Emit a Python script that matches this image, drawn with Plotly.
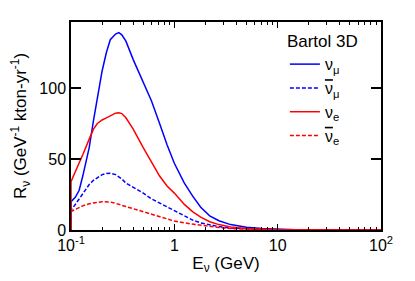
import plotly.graph_objects as go

# Neutrino energy (GeV)
energy = [0.1, 0.1, 0.11, 0.12, 0.13, 0.15, 0.165, 0.18, 0.2, 0.22, 0.24, 0.27, 0.29, 0.31,
          0.34, 0.4, 0.5, 0.6, 0.72, 0.85, 1.0, 1.25, 1.5, 1.8, 2.2, 2.7, 3.5, 5, 7, 10,
          15, 25, 40, 100]

# Event rates (GeV^-1 kton-yr^-1)
numu =    [0, 20, 23, 28, 38, 58, 77, 92, 112, 125, 134, 138, 139, 137.5,
           133, 120, 104, 91, 75, 60, 47, 33, 24, 16, 10, 6.5, 3.8, 1.9, 1.0, 0.5,
           0.2, 0.08, 0.03, 0]
numubar = [0, 14, 18, 22, 26, 32, 35, 37, 39, 39.8, 40, 39, 37.5, 36,
           33, 30, 26, 22, 19, 16, 13.5, 10, 7, 5, 3.5, 2.4, 1.4, 0.7, 0.35, 0.15,
           0.06, 0.02, 0.01, 0]
nue =     [0, 34, 41, 47, 53, 64, 71, 75, 77.5, 79, 80.5, 82.3, 82.6, 82,
           79, 71, 58, 48, 38, 31, 26, 18, 13, 9, 5.8, 3.8, 2.2, 1.0, 0.5, 0.25,
           0.1, 0.04, 0.01, 0]
nuebar =  [0, 13, 14.5, 16, 17, 18.5, 19.2, 19.5, 19.9, 20, 19.7, 18.8, 18, 17.3,
           16.5, 15, 13, 11, 9.4, 8, 6.3, 5, 4.2, 3.3, 2.5, 1.7, 1.0, 0.5, 0.25, 0.1,
           0.04, 0.01, 0, 0]

OV = '<span style="text-decoration:overline">ν</span>'
names = ["ν<sub>μ</sub>", OV + "<sub>μ</sub>", "ν<sub>e</sub>", OV + "<sub>e</sub>"]
series = [numu, numubar, nue, nuebar]
colors = ["#0000ff", "#0000ff", "#ff0000", "#ff0000"]
dashes = ["solid", "4px,2px", "solid", "4px,2px"]

xtickvals = [0.1, 1, 10, 100]
xticktext = ["10<sup>-1</sup>", "1", "10", "10<sup>2</sup>"]
ytickvals = [0, 50, 100]

FONT = "Liberation Sans, Arial, sans-serif"

fig = go.Figure()
for nm, ys, c, d in zip(names, series, colors, dashes):
    fig.add_trace(go.Scatter(x=energy, y=ys, mode="lines", name=nm,
                             line=dict(color=c, width=1.5, dash=d)))

# page body has an 8px margin, so the figure is sized to fit inside the window
fig.update_layout(
    width=407, height=273,
    margin=dict(l=63, r=34, t=14, b=51),
    paper_bgcolor="white", plot_bgcolor="white",
    font=dict(family=FONT, size=16, color="black"),
    legend=dict(
        x=0.69, y=0.985, xanchor="left", yanchor="top",
        title=dict(text="Bartol 3D", font=dict(size=17)),
        font=dict(size=16), bgcolor="rgba(0,0,0,0)", tracegroupgap=0,
    ),
)
fig.update_xaxes(
    type="log", range=[-1, 2], automargin=False,
    tickvals=xtickvals, ticktext=xticktext,
    ticks="inside", ticklen=6, tickwidth=1, tickcolor="black",
    minor=dict(dtick="D1", ticks="inside", ticklen=3, tickcolor="black", showgrid=False),
    showline=True, linecolor="black", linewidth=1.5, mirror="ticks",
    showgrid=False, zeroline=False,
    title=dict(text="E<sub>ν</sub> (GeV)", standoff=4, font=dict(size=17)),
)
fig.update_yaxes(
    range=[0, 146.5], tickvals=ytickvals, automargin=False,
    ticks="inside", ticklen=10, tickwidth=1.5, tickcolor="black",
    showline=True, linecolor="black", linewidth=1.5, mirror="ticks",
    showgrid=False, zeroline=False,
    title=dict(text="R<sub>ν</sub> (GeV<sup>-1</sup> kton-yr<sup>-1</sup>)", standoff=8, font=dict(size=17)),
)

fig.write_html("out.html")
